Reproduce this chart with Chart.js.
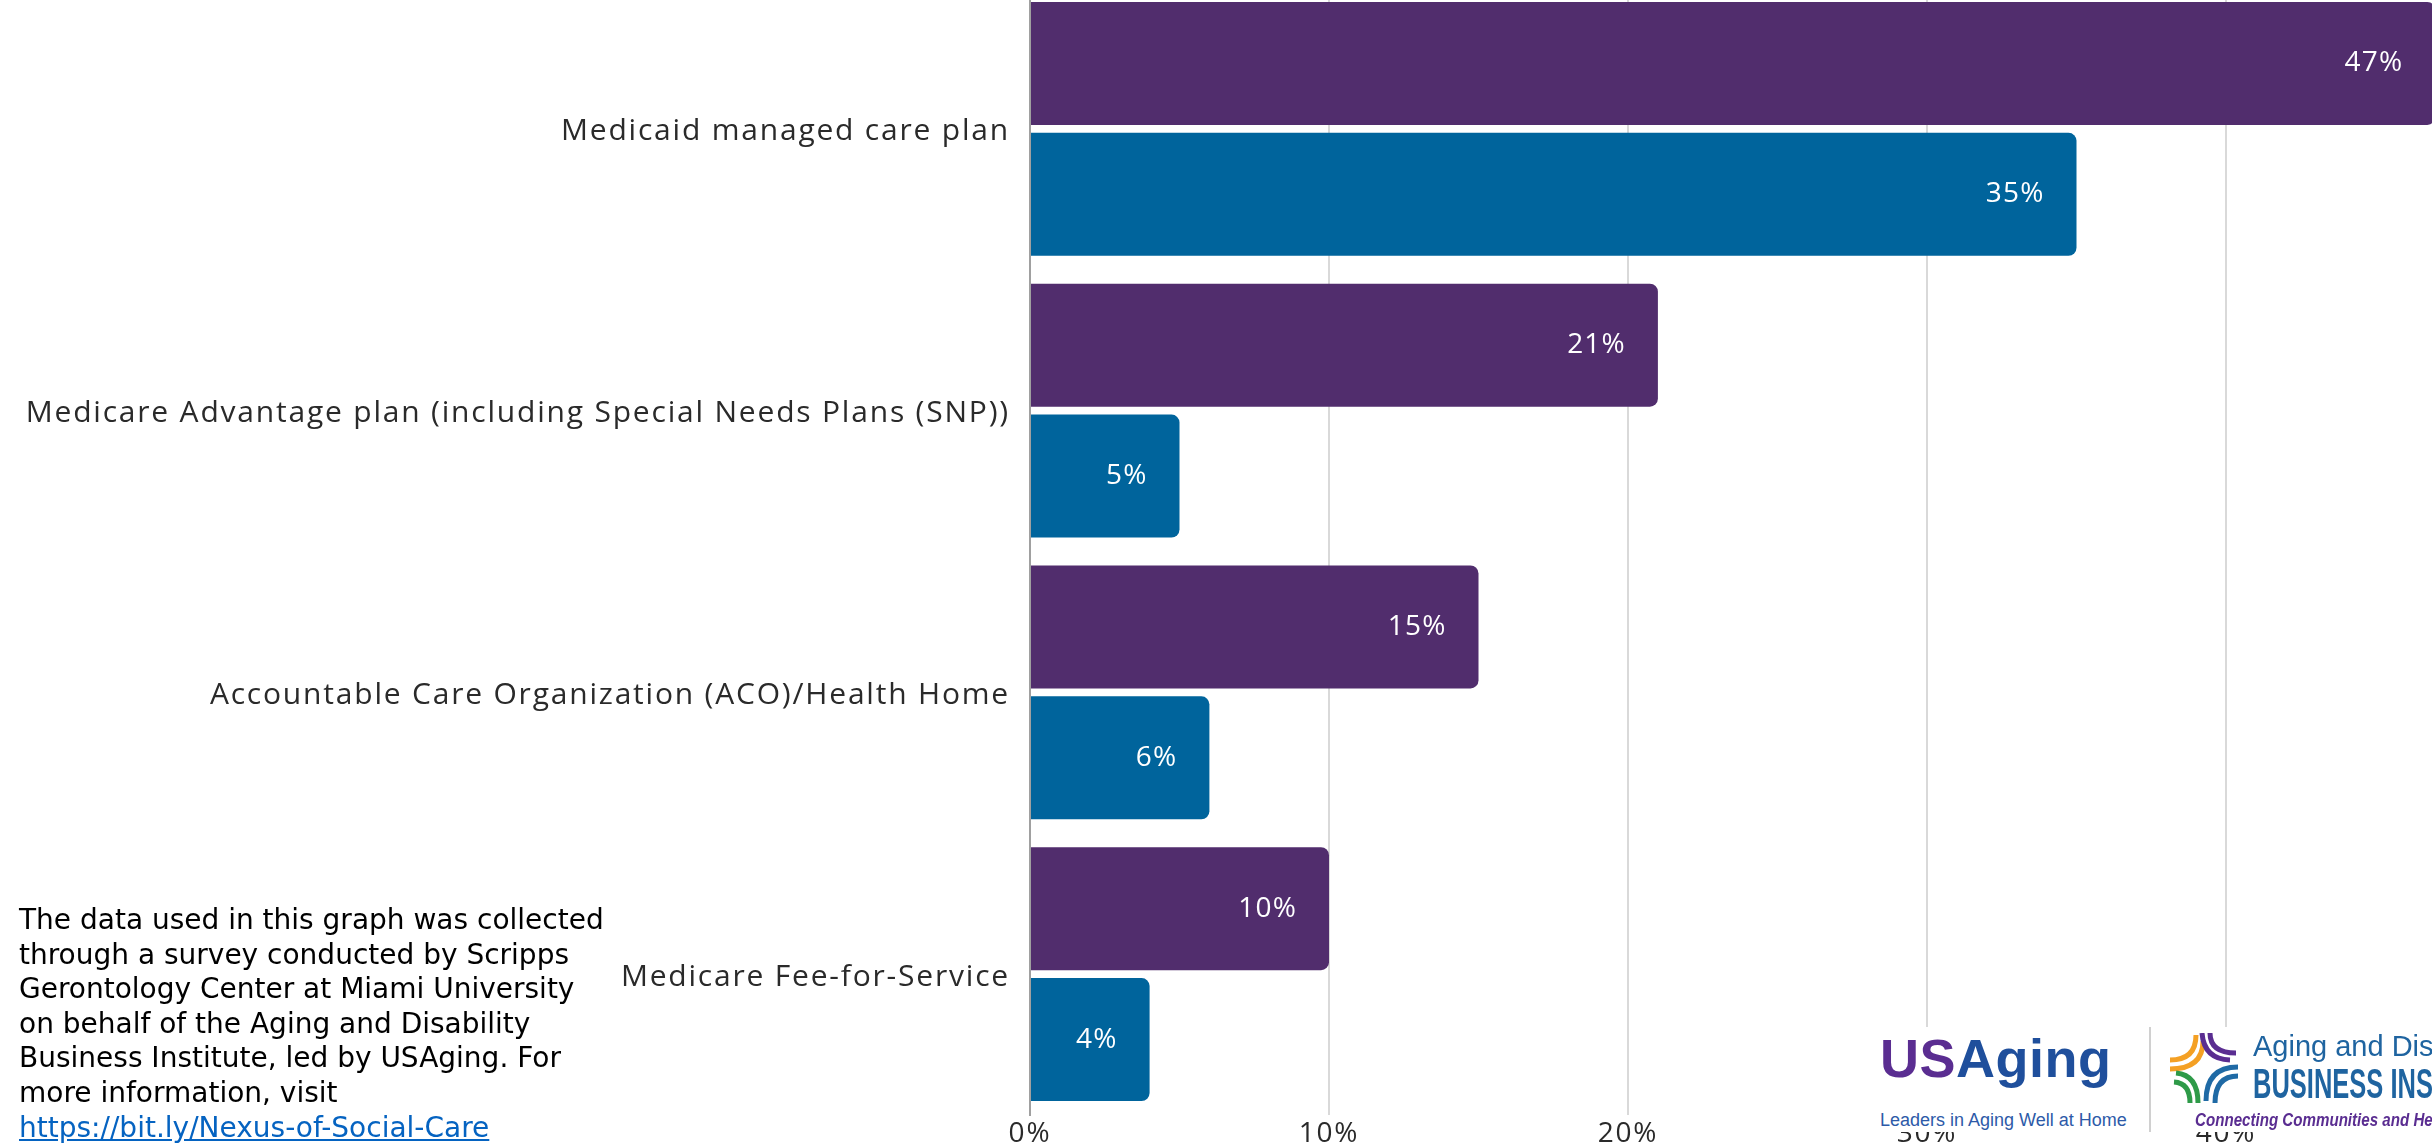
<!DOCTYPE html>
<html><head><meta charset="utf-8">
<script src="https://cdn.jsdelivr.net/npm/chart.js@4.4.0/dist/chart.umd.min.js"></script>
<style>
html,body{margin:0;padding:0;width:2432px;height:1145px;overflow:hidden;background:#fff;}
#wrap{position:absolute;left:0;top:-12px;width:2565px;height:1170px;}
#note{position:absolute;left:19px;top:903px;font-family:"DejaVu Sans",Verdana,sans-serif;font-size:28px;line-height:34.6px;color:#000;white-space:nowrap;}
#note a{color:#0563C1;text-decoration:underline;}
#logos{position:absolute;left:1862px;top:1027px;width:600px;height:105px;background:#fff;}
.t{position:absolute;white-space:nowrap;line-height:1;transform-origin:left top;}
</style>
</head><body>
<div id="wrap"><canvas id="c" width="2565" height="1170"></canvas></div>
<div id="note">The data used in this graph was collected<br>through a survey conducted by Scripps<br>Gerontology Center at Miami University<br>on behalf of the Aging and Disability<br>Business Institute, led by USAging. For<br>more information, visit<br><a href="#">https://bit.ly/Nexus-of-Social-Care</a></div>
<div id="logos">
  <div class="t" style="left:18px;top:4px;font-family:'Liberation Sans',Arial,sans-serif;font-weight:bold;font-size:54px;letter-spacing:0.5px;"><span style="color:#5a2d91">US</span><span style="color:#1f4f9c">Aging</span></div>
  <div class="t" style="left:18px;top:84px;font-family:'Liberation Sans',Arial,sans-serif;font-size:18px;color:#2d5aa8;">Leaders in Aging Well at Home</div>
  <div style="position:absolute;left:287px;top:0;width:2px;height:105px;background:#d0d0d0;"></div>
  <svg style="position:absolute;left:308px;top:6px;" width="68" height="70" viewBox="0 0 68 70">
    <g fill="none" stroke-width="5" stroke-linecap="butt">
      <path d="M0 27 Q26 27 26 2" stroke="#f4a024"/>
      <path d="M0 36 Q33 36 33 8" stroke="#f4a024"/>
      <path d="M32 0 Q34 26 60 27" stroke="#5a2d91"/>
      <path d="M40 0 Q40 20 66 20" stroke="#5a2d91"/>
      <path d="M68 34 Q36 34 36 68" stroke="#1f6aa5"/>
      <path d="M68 43 Q45 43 45 70" stroke="#1f6aa5"/>
      <path d="M6 40 Q28 42 28 70" stroke="#2e9a48"/>
      <path d="M4 49 Q20 50 20 70" stroke="#2e9a48"/>
    </g>
  </svg>
  <div class="t" style="left:391px;top:5px;font-family:'Liberation Sans',Arial,sans-serif;font-size:29px;color:#1f64a0;">Aging and Disability</div>
  <div class="t" style="left:391px;top:36px;font-family:'Liberation Sans Narrow',sans-serif;font-weight:bold;font-size:42.5px;color:#1f64a0;transform:scaleX(0.6);">BUSINESS INSTITUTE</div>
  <div class="t" style="left:333px;top:84px;font-family:'Liberation Sans Narrow',sans-serif;font-style:italic;font-weight:bold;font-size:18px;color:#5a2d91;transform:scaleX(0.84);">Connecting Communities and Health Care</div>
</div>
<script>
const categories = [
  "Medicaid managed care plan",
  "Medicare Advantage plan (including Special Needs Plans (SNP))",
  "Accountable Care Organization (ACO)/Health Home",
  "Medicare Fee-for-Service"
];
const seriesPurple = [47, 21, 15, 10];
const seriesBlue = [35, 5, 6, 4];
const seriesNames = ["Series 1", "Series 2"];
const xTickValues = [0, 10, 20, 30, 40, 50];

const FONT = '"Open Sans", sans-serif';

const spacing = {
  id: 'spacing',
  beforeDraw(chart) { chart.ctx.letterSpacing = '1.8px'; }
};

const valueLabels = {
  id: 'valueLabels',
  afterDatasetsDraw(chart) {
    const ctx = chart.ctx;
    ctx.save();
    ctx.letterSpacing = '1.2px';
    ctx.font = '400 28px ' + FONT;
    ctx.fillStyle = '#ffffff';
    ctx.textAlign = 'right';
    ctx.textBaseline = 'middle';
    chart.data.datasets.forEach((ds, i) => {
      chart.getDatasetMeta(i).data.forEach((bar, j) => {
        ctx.fillText(ds.data[j] + '%', bar.x - 32, bar.y);
      });
    });
    ctx.restore();
  }
};

new Chart(document.getElementById('c'), {
  type: 'bar',
  data: {
    labels: categories,
    datasets: [
      { label: seriesNames[0], data: seriesPurple, backgroundColor: '#512d6d',
        borderRadius: 8, borderSkipped: 'start', categoryPercentage: 0.929, barPercentage: 0.939 },
      { label: seriesNames[1], data: seriesBlue, backgroundColor: '#00649c',
        borderRadius: 8, borderSkipped: 'start', categoryPercentage: 0.929, barPercentage: 0.939 }
    ]
  },
  options: {
    indexAxis: 'y',
    responsive: false,
    animation: false,
    devicePixelRatio: 1,
    layout: { padding: { left: 0, right: 40, top: 0, bottom: 0 } },
    plugins: { legend: { display: false }, tooltip: { enabled: false } },
    scales: {
      x: {
        min: 0, max: 50,
        afterBuildTicks(scale) { scale.ticks = xTickValues.map(v => ({ value: v })); },
        afterFit(scale) { scale.height = 43; },
        grid: { color: '#d9d9d9', lineWidth: 2, drawTicks: false },
        border: { display: false },
        ticks: { padding: 2, color: '#2a2a2a', font: { family: FONT, size: 28, weight: 400 }, callback: v => v + '%' }
      },
      y: {
        afterFit(scale) { scale.width = 1030; scale.paddingTop = 0; scale.paddingBottom = 0; },
        grid: { display: false, drawTicks: false },
        border: { display: true, color: '#a0a0a0', width: 2 },
        ticks: { padding: 20, labelOffset: 3, color: '#2a2a2a', font: { family: FONT, size: 30, weight: 400 } }
      }
    }
  },
  plugins: [spacing, valueLabels]
});
</script>
</body></html>
